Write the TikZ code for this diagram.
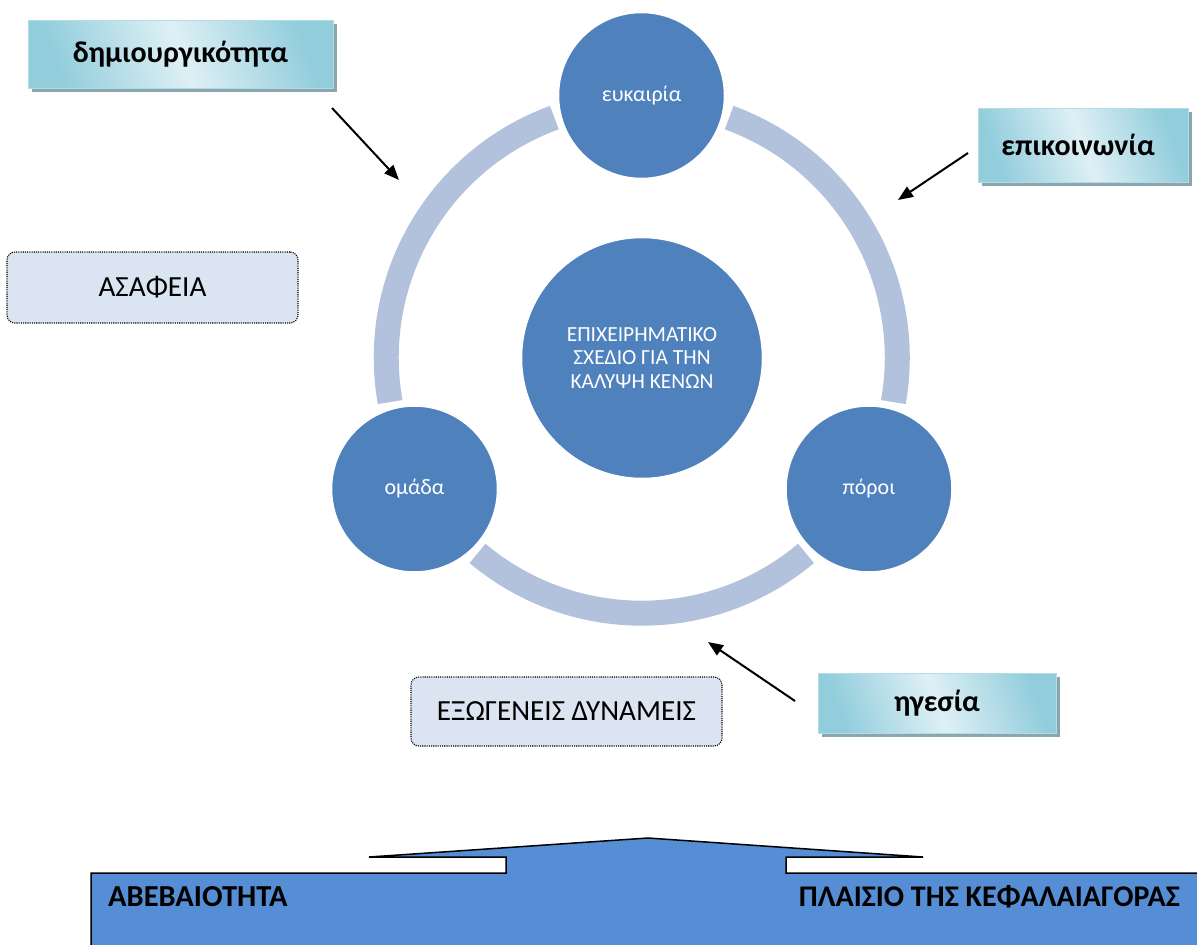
\documentclass[tikz,border=0pt]{standalone}
\usepackage{fontspec}
\setmainfont{Carlito}
\usetikzlibrary{arrows.meta,shadows,calc}
\definecolor{circblue}{RGB}{79,129,189}
\definecolor{ringblue}{RGB}{178,193,220}
\definecolor{bottomblue}{RGB}{85,142,213}
\definecolor{paleblue}{RGB}{219,229,241}
\definecolor{cyandark}{RGB}{146,205,220}
\definecolor{cyanlight}{RGB}{222,240,245}
\definecolor{shadowgrey}{RGB}{140,166,176}
\tikzset{
  ringarc/.style={draw=ringblue,line width=25pt,line cap=butt},
  bigcirc/.style={circle,fill=circblue,draw=white,line width=2.5pt,inner sep=0pt,text=white,align=center},
  cyanbox/.style={rectangle,draw=cyandark!70!white,line width=0.8pt,left color=cyandark,right color=cyandark,middle color=cyanlight,shading angle=-70,
     drop shadow={shadow xshift=4pt,shadow yshift=-4pt,fill=shadowgrey,opacity=1},
     font=\fontsize{30}{35}\selectfont\bfseries,inner sep=0pt},
  dotbox/.style={rectangle,rounded corners=8pt,draw=black,fill=paleblue,line width=1.1pt,dash pattern=on 1.1pt off 1.1pt,
     font=\fontsize{29.2}{34}\selectfont,inner sep=0pt},
  pointer/.style={-{Triangle[length=15pt,width=12pt]},line width=2pt,black}
}
\begin{document}
\begin{tikzpicture}[x=1pt,y=1pt]
\useasboundingbox (0,0) rectangle (1197,-945);
% ring
\coordinate (C) at (641.75,-357.7);
\draw[ringarc] (C) ++(70:255.5pt) arc[start angle=70,end angle=-10,radius=255.5pt];
\draw[ringarc] (C) ++(-50:255.5pt) arc[start angle=-50,end angle=-130,radius=255.5pt];
\draw[ringarc] (C) ++(190:255.5pt) arc[start angle=190,end angle=110,radius=255.5pt];
% circles
\node[bigcirc,minimum size=167pt,font=\fontsize{22}{26}\selectfont] (euk) at (641.5,-95.5) {ευκαιρία};
\node[bigcirc,minimum size=167pt,font=\fontsize{22}{26}\selectfont] (omada) at (414.5,-489) {ομάδα};
\node[bigcirc,minimum size=167pt,font=\fontsize{22}{26}\selectfont] (poroi) at (869,-489) {πόροι};
\node[bigcirc,minimum size=242pt,font=\fontsize{21.5}{23.5}\selectfont] (center) at (642,-358) {ΕΠΙΧΕΙΡΗΜΑΤΙΚΟ\\ΣΧΕΔΙΟ ΓΙΑ ΤΗΝ\\ΚΑΛΥΨΗ ΚΕΝΩΝ};
% cyan boxes
\node[cyanbox,minimum width=305pt,minimum height=68pt] (dim) at (180.5,-54) {δημιουργικότητα};
\node[cyanbox,minimum width=210pt,minimum height=74pt] (epik) at (1083,-145) {\hspace*{-10pt}επικοινωνία};
\node[cyanbox,minimum width=238pt,minimum height=60pt] (hges) at (937,-703) {ηγεσία};
% dotted boxes
\node[dotbox,minimum width=291pt,minimum height=71pt] (asaf) at (152.5,-287.5) {ΑΣΑΦΕΙΑ};
\node[dotbox,minimum width=311pt,minimum height=69pt] (exog) at (566.5,-711.5) {ΕΞΩΓΕΝΕΙΣ ΔΥΝΑΜΕΙΣ};
% arrows
\coordinate (a1s) at (332,-108);
\coordinate (a1e) at (399,-180);
\coordinate (a2s) at (968,-153);
\coordinate (a2e) at (898,-200);
\coordinate (a3s) at (795,-701);
\coordinate (a3e) at (708,-642);
\draw[pointer] (a1s) -- (a1e);
\draw[pointer] (a2s) -- (a2e);
\draw[pointer] (a3s) -- (a3e);
% bottom shape
\begin{scope}
\clip (0,0) rectangle (1197,-945);
\draw[fill=bottomblue,line width=1.5pt,line join=miter]
  (91,-960) -- (91,-873) -- (506,-873) -- (506,-857) -- (369,-857) -- (648,-838) -- (923,-857)
  -- (786,-857) -- (786,-873) -- (1210,-873) -- (1210,-960) -- cycle;
\end{scope}
\node[anchor=base west,inner sep=0pt,font=\fontsize{30.5}{35}\selectfont\bfseries] (abeb) at (108,-906) {ΑΒΕΒΑΙΟΤΗΤΑ};
\node[anchor=base east,inner sep=0pt,font=\fontsize{30}{35}\selectfont\bfseries] (plais) at (1180,-906) {ΠΛΑΙΣΙΟ ΤΗΣ ΚΕΦΑΛΑΙΑΓΟΡΑΣ};
\end{tikzpicture}
\end{document}
